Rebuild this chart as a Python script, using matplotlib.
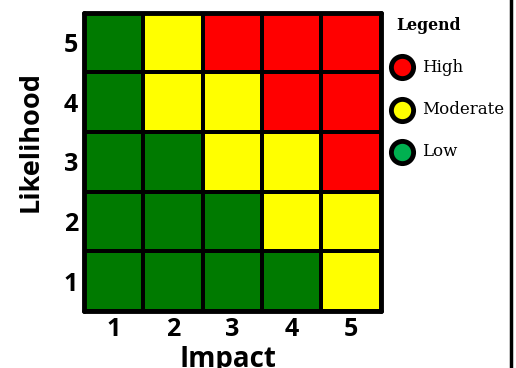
import numpy as np
import matplotlib.pyplot as plt
from matplotlib.colors import ListedColormap
from matplotlib.lines import Line2D

# Risk level per cell: 0 = low, 1 = moderate, 2 = high
# rows are likelihood 1..5 (bottom to top), columns impact 1..5
risk = np.array([
    [0, 0, 0, 0, 1],
    [0, 0, 0, 1, 1],
    [0, 0, 1, 1, 2],
    [0, 1, 1, 2, 2],
    [0, 1, 2, 2, 2],
])
impact_labels = ["1", "2", "3", "4", "5"]
likelihood_labels = ["1", "2", "3", "4", "5"]
legend_names = ["High", "Moderate", "Low"]

cell_colors = ["#007A00", "#FFFF00", "#FF0000"]
legend_colors = ["#FF0000", "#FFFF00", "#00B050"]

W, H = 516, 368
fig = plt.figure(figsize=(W / 100, H / 100), dpi=100)
ax = fig.add_axes([84 / W, 57 / H, 296.5 / W, 298.5 / H])

ax.pcolormesh(np.arange(6) + 0.5, np.arange(6) + 0.5, risk,
              cmap=ListedColormap(cell_colors), vmin=-0.5, vmax=2.5,
              edgecolors="black", linewidth=1.6)
ax.set_xlim(0.5, 5.5)
ax.set_ylim(0.5, 5.5)
for s in ax.spines.values():
    s.set_linewidth(3.5)
    s.set_capstyle("round")

ax.set_xticks(range(1, 6))
ax.set_xticklabels(impact_labels)
ax.set_yticks(range(1, 6))
ax.set_yticklabels(likelihood_labels)
ax.tick_params(length=0)
ax.tick_params(axis="x", pad=4.2)
ax.tick_params(axis="y", pad=4.3)
for lbl in ax.get_xticklabels() + ax.get_yticklabels():
    lbl.set_family("Open Sans")
    lbl.set_fontweight("bold")
    lbl.set_fontsize(18)

fig.text(228 / W, 1 - 366.5 / H, "Impact", family="Open Sans", fontweight="bold",
         fontsize=20, ha="center", va="baseline")
fig.text(31 / W, 1 - 141 / H, "Likelihood", family="Open Sans", fontweight="bold",
         fontsize=19.5, ha="center", va="center", rotation=90)

# legend drawn in pixel coordinates on an overlay axes
lg = fig.add_axes([0, 0, 1, 1])
lg.set_xlim(0, W)
lg.set_ylim(H, 0)
lg.set_axis_off()
lg.text(396, 25, "Legend", family="DejaVu Serif", fontweight="bold",
        fontsize=11.3, ha="left", va="center")
for i, (name, c) in enumerate(zip(legend_names, legend_colors)):
    y = 67 + i * 42.5
    lg.plot(402, y, marker="o", markersize=16, markerfacecolor=c,
            markeredgecolor="black", markeredgewidth=3.5)
    lg.text(422, y, name, family="DejaVu Serif", fontsize=12,
            ha="left", va="center")

# separator line at the right edge
lg.plot([510.5, 510.5], [0, H], color="black", linewidth=2.5)

fig.savefig("out.png", dpi=100)
